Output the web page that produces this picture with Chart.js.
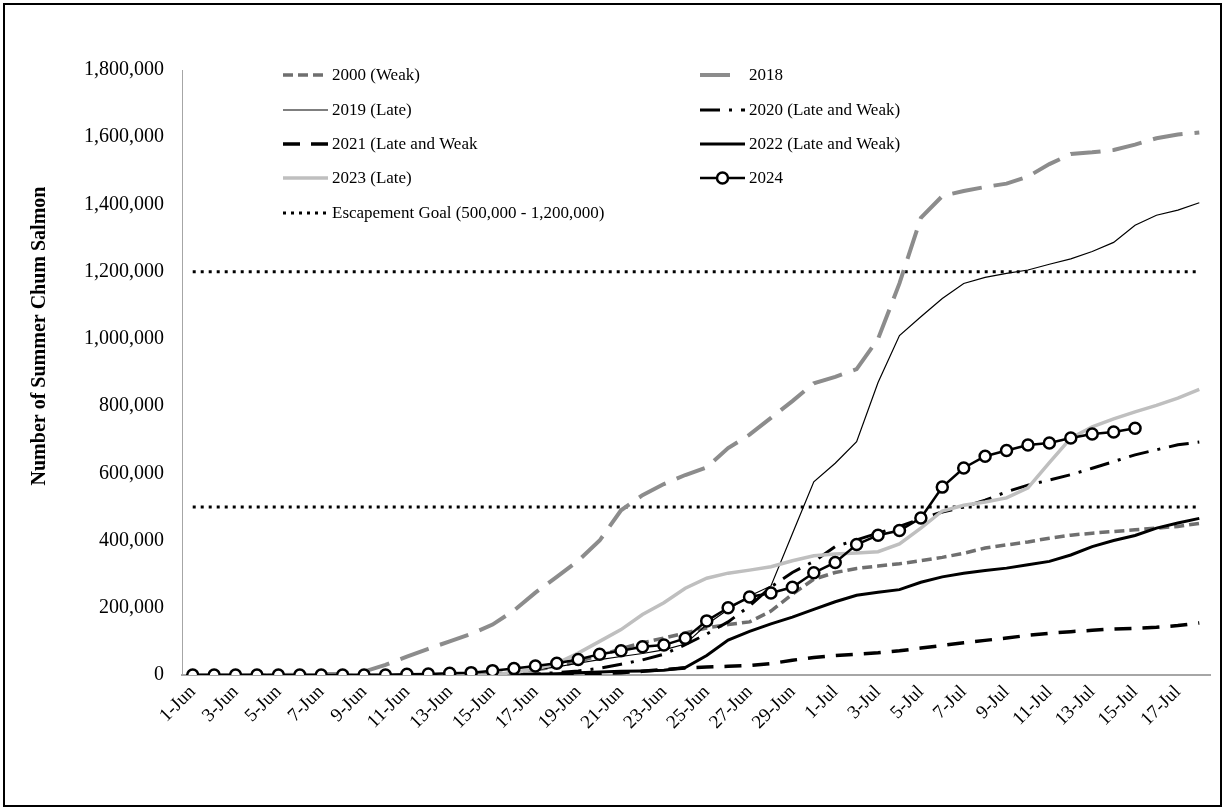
<!DOCTYPE html>
<html>
<head>
<meta charset="utf-8">
<title>Summer Chum Salmon</title>
<script src="https://cdn.jsdelivr.net/npm/chart.js@4.4.1/dist/chart.umd.min.js"></script>
<style>
  html, body { margin: 0; padding: 0; background: #fff; }
  #wrap { width: 1225px; height: 810px; }
</style>
</head>
<body>
<div id="wrap"><canvas id="salmonChart" width="1225" height="810"></canvas></div>
<script>
// Dates on the x axis (1 Jun - 18 Jul)
const dates = [
  '1-Jun','2-Jun','3-Jun','4-Jun','5-Jun','6-Jun','7-Jun','8-Jun','9-Jun','10-Jun',
  '11-Jun','12-Jun','13-Jun','14-Jun','15-Jun','16-Jun','17-Jun','18-Jun','19-Jun','20-Jun',
  '21-Jun','22-Jun','23-Jun','24-Jun','25-Jun','26-Jun','27-Jun','28-Jun','29-Jun','30-Jun',
  '1-Jul','2-Jul','3-Jul','4-Jul','5-Jul','6-Jul','7-Jul','8-Jul','9-Jul','10-Jul',
  '11-Jul','12-Jul','13-Jul','14-Jul','15-Jul','16-Jul','17-Jul','18-Jul'
];

// Cumulative passage
const run2000 = [0,0,0,0,0,0,0,0,0,0,0,0,1000,2000,3000,8000,15000,25000,40000,58000,
  78000,96000,110000,125000,140000,150000,158000,190000,240000,285000,305000,317000,324000,331000,340000,350000,
  362000,378000,387000,396000,407000,416000,422000,427000,432000,437000,442000,451000];
const run2018 = [0,0,0,0,0,1000,2000,4000,10000,30000,55000,78000,100000,122000,150000,192000,245000,292000,340000,400000,
  490000,535000,568000,595000,618000,675000,715000,765000,815000,868000,887000,910000,1000000,1165000,1360000,1425000,
  1440000,1452000,1462000,1483000,1520000,1550000,1555000,1562000,1578000,1597000,1608000,1614000];
const run2019 = [0,0,0,0,0,0,0,0,0,0,0,0,1000,2000,3000,8000,15000,24000,35000,46000,
  55000,64000,75000,92000,150000,195000,235000,265000,420000,575000,630000,694000,870000,1010000,1066000,1120000,
  1165000,1183000,1195000,1205000,1222000,1238000,1260000,1287000,1338000,1368000,1383000,1405000];
const run2020 = [0,0,0,0,0,0,0,0,0,0,0,0,0,0,0,0,3000,7000,12000,20000,
  32000,45000,62000,90000,122000,158000,205000,262000,305000,338000,382000,402000,422000,442000,465000,485000,
  500000,520000,545000,565000,580000,596000,615000,635000,655000,670000,685000,693000];
const run2021 = [0,0,0,0,0,0,0,0,0,0,0,0,0,0,0,0,0,0,2000,4000,
  7000,11000,16000,21000,24000,26000,28000,34000,44000,52000,58000,62000,66000,72000,80000,88000,
  96000,103000,110000,118000,124000,129000,133000,137000,139000,142000,147000,155000];
const run2022 = [0,0,0,0,0,0,0,0,0,0,0,0,0,0,0,0,2000,4000,7000,9000,
  11000,12000,14000,22000,58000,104000,130000,152000,172000,195000,218000,237000,246000,254000,276000,292000,
  303000,311000,318000,328000,338000,357000,382000,400000,415000,437000,452000,466000];
const run2023 = [0,0,0,0,0,0,0,0,0,0,0,0,0,0,0,8000,18000,35000,65000,100000,
  135000,180000,215000,258000,288000,303000,312000,322000,340000,355000,360000,363000,367000,390000,437000,488000,
  505000,515000,527000,557000,632000,705000,738000,762000,783000,802000,824000,850000];
const run2024 = [0,0,0,0,0,0,0,0,0,0,2000,3000,5000,7000,13000,19000,27000,35000,46000,62000,
  72000,84000,89000,109000,161000,200000,232000,244000,261000,304000,335000,388000,416000,430000,467000,559000,
  616000,651000,668000,684000,690000,705000,717000,723000,734000];

// Escapement goal range (lower, upper)
const escapementGoal = [500000, 1200000];

// Y axis ticks
const yTicks = [0,200000,400000,600000,800000,1000000,1200000,1400000,1600000,1800000];

const FONT = '"Liberation Serif", "Times New Roman", serif';

const datasets = [
  { label: 'Escapement Goal (500,000 - 1,200,000)', data: dates.map(() => escapementGoal[0]),
    borderColor: '#000', borderWidth: 3, borderDash: [3, 5], order: 9 },
  { label: 'goalHigh', data: dates.map(() => escapementGoal[1]),
    borderColor: '#000', borderWidth: 3, borderDash: [3, 5], order: 9 },
  { label: '2000 (Weak)', data: run2000, borderColor: '#6f6f6f', borderWidth: 3.5, borderDash: [10, 5], order: 8 },
  { label: '2018', data: run2018, borderColor: '#8c8c8c', borderWidth: 4, borderDash: [30, 12], order: 7 },
  { label: '2019 (Late)', data: run2019, borderColor: '#000', borderWidth: 1.2, order: 6 },
  { label: '2020 (Late and Weak)', data: run2020, borderColor: '#000', borderWidth: 3, borderDash: [20, 9, 3, 9], order: 5 },
  { label: '2021 (Late and Weak', data: run2021, borderColor: '#000', borderWidth: 3.5, borderDash: [17, 11], order: 4 },
  { label: '2022 (Late and Weak)', data: run2022, borderColor: '#000', borderWidth: 3, order: 3 },
  { label: '2023 (Late)', data: run2023, borderColor: '#bfbfbf', borderWidth: 3.5, order: 2 },
  { label: '2024', data: run2024, borderColor: '#000', borderWidth: 2.5, order: 1,
    pointRadius: 5.5, pointBorderWidth: 2.5, pointBackgroundColor: '#fff', pointBorderColor: '#000' }
];
datasets.forEach(ds => {
  ds.fill = false;
  ds.tension = 0;
  if (ds.pointRadius === undefined) ds.pointRadius = 0;
  ds.pointHoverRadius = ds.pointRadius;
});

// legend slots: [dataset label, column, row]
const legendSlots = [
  ['2000 (Weak)', 0, 0], ['2018', 1, 0],
  ['2019 (Late)', 0, 1], ['2020 (Late and Weak)', 1, 1],
  ['2021 (Late and Weak', 0, 2], ['2022 (Late and Weak)', 1, 2],
  ['2023 (Late)', 0, 3], ['2024', 1, 3],
  ['Escapement Goal (500,000 - 1,200,000)', 0, 4]
];

const decorPlugin = {
  id: 'decor',
  afterDraw(chart) {
    const ctx = chart.ctx;
    ctx.save();

    // outer frame
    ctx.setLineDash([]);
    ctx.strokeStyle = '#000';
    ctx.lineWidth = 2;
    ctx.strokeRect(4, 4, chart.width - 8, chart.height - 8);

    // y axis title
    ctx.save();
    ctx.translate(40, 336);
    ctx.rotate(-Math.PI / 2);
    ctx.font = 'bold 20px ' + FONT;
    ctx.fillStyle = '#000';
    ctx.textAlign = 'center';
    ctx.textBaseline = 'middle';
    ctx.fillText('Number of Summer Chum Salmon', 0, 0);
    ctx.restore();

    // legend
    const colX = [283, 700];
    const rowY = [75, 110, 144, 178, 213];
    ctx.font = '17px ' + FONT;
    ctx.textBaseline = 'middle';
    ctx.textAlign = 'left';
    legendSlots.forEach(([label, c, r]) => {
      const ds = chart.data.datasets.find(d => d.label === label);
      const x0 = colX[c], x1 = x0 + 45, y = rowY[r];
      ctx.beginPath();
      ctx.setLineDash(ds.borderDash || []);
      ctx.strokeStyle = ds.borderColor;
      ctx.lineWidth = ds.borderWidth;
      ctx.moveTo(x0, y);
      ctx.lineTo(label === '2018' ? x0 + 32 : x1, y);
      ctx.stroke();
      ctx.setLineDash([]);
      if (ds.pointRadius > 0) {
        ctx.beginPath();
        ctx.arc((x0 + x1) / 2, y, ds.pointRadius, 0, Math.PI * 2);
        ctx.fillStyle = ds.pointBackgroundColor;
        ctx.fill();
        ctx.lineWidth = ds.pointBorderWidth;
        ctx.strokeStyle = ds.pointBorderColor;
        ctx.stroke();
      }
      ctx.fillStyle = '#000';
      ctx.fillText(label, x1 + 4, y + 1);
    });
    ctx.restore();
  }
};

new Chart(document.getElementById('salmonChart'), {
  type: 'line',
  data: { labels: dates, datasets: datasets },
  options: {
    responsive: false,
    animation: false,
    events: [],
    layout: { padding: { left: 10, right: 15, top: 70, bottom: 10 } },
    plugins: {
      legend: { display: false },
      tooltip: { enabled: false }
    },
    scales: {
      x: {
        type: 'category',
        offset: true,
        grid: { display: false, drawTicks: false },
        border: { display: true, color: '#a6a6a6', width: 2 },
        ticks: {
          autoSkip: false,
          minRotation: 45,
          maxRotation: 45,
          padding: 6,
          color: '#000',
          font: { family: FONT, size: 19 },
          callback: function (val, i) { return i % 2 === 0 ? this.getLabelForValue(val) : ''; }
        },
        afterFit: scale => { scale.height = 125; }
      },
      y: {
        min: 0,
        max: 1800000,
        grid: { display: false, drawTicks: false },
        border: { display: true, color: '#a6a6a6', width: 1 },
        afterBuildTicks: scale => { scale.ticks = yTicks.map(v => ({ value: v })); },
        ticks: {
          padding: 18,
          color: '#000',
          font: { family: FONT, size: 20 },
          callback: v => v.toLocaleString('en-US')
        },
        afterFit: scale => { scale.width = 172; }
      }
    }
  },
  plugins: [decorPlugin]
});
</script>
</body>
</html>
